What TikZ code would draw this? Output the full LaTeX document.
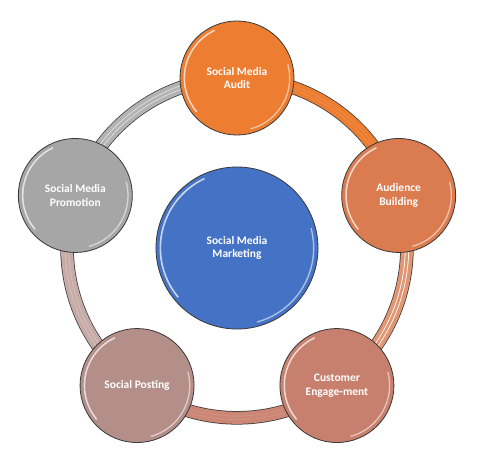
\documentclass[tikz,border=0pt]{standalone}
\usepackage{fontspec}
\setmainfont{Carlito}
\usepackage{xcolor}
\usepackage{tikz}
\usetikzlibrary{backgrounds}
\definecolor{hubc}{HTML}{4472C4}
\definecolor{auditc}{HTML}{ED7D31}
\definecolor{audic}{HTML}{DA7C50}
\definecolor{custc}{HTML}{C8806E}
\definecolor{postc}{HTML}{B48F89}
\definecolor{promoc}{HTML}{A6A6A6}
\definecolor{edgec}{HTML}{3A3A3A}
\tikzset{
  stage/.style={circle,draw=edgec,line width=0.7pt,fill=#1,text=white,align=center,
    minimum size=3.42cm,inner sep=0pt,font=\bfseries\fontsize{9.8}{11.4}\selectfont,
    path picture={
      \draw[white,line width=1.3pt,opacity=.7] (path picture bounding box.center) ++(115:1.58cm) arc (115:220:1.58cm);
      \draw[white,line width=1.1pt,opacity=.55] (path picture bounding box.center) ++(-75:1.58cm) arc (-75:15:1.58cm);
    }},
  hubnode/.style={stage=hubc,minimum size=4.86cm,
    path picture={
      \draw[white,line width=1.4pt,opacity=.7] (path picture bounding box.center) ++(115:2.3cm) arc (115:220:2.3cm);
      \draw[white,line width=1.2pt,opacity=.55] (path picture bounding box.center) ++(-75:2.3cm) arc (-75:15:2.3cm);
    }},
  bandline/.style={line width=0.36cm+1.3pt,edgec},
  bandfill/.style={line width=0.36cm,#1},
  stripes/.style={line width=0.7pt,double distance=2.2pt}
}

\begin{document}
\begin{tikzpicture}[x=0.03cm,y=0.03cm]
\useasboundingbox (-237,-219) rectangle (263,248);
\node[hubnode] (hub) at (0,0) {Social Media\\Marketing};
\node[stage=auditc] (audit) at (90:170) {Social Media\\Audit};
\node[stage=audic] (audience) at (18:170) {Audience\\Building};
\node[stage=custc] (customer) at (-54:170) {Customer\\Engage-ment};
\node[stage=postc] (posting) at (-126:170) {Social Posting};
\node[stage=promoc] (promotion) at (162:170) {Social Media\\Promotion};
% ring segments behind the circles
\begin{scope}[on background layer]
\foreach \a/\b/\c/\s in {audit/audience/auditc/auditc!88!white,
  audience/customer/audic!80!white/white,
  customer/posting/custc!95!white/custc!85!white,
  posting/promotion/postc!75!white/postc!55!white,
  promotion/audit/promoc!85!white/promoc!35!white}{
  \draw[bandline] (\a.center) to[bend left=36,looseness=.94] (\b.center);
  \draw[bandfill=\c] (\a.center) to[bend left=36,looseness=.94] (\b.center);
  \draw[stripes,draw=\s,double=\c] (\a.center) to[bend left=36,looseness=.94] (\b.center);
}
\end{scope}
\end{tikzpicture}
\end{document}
